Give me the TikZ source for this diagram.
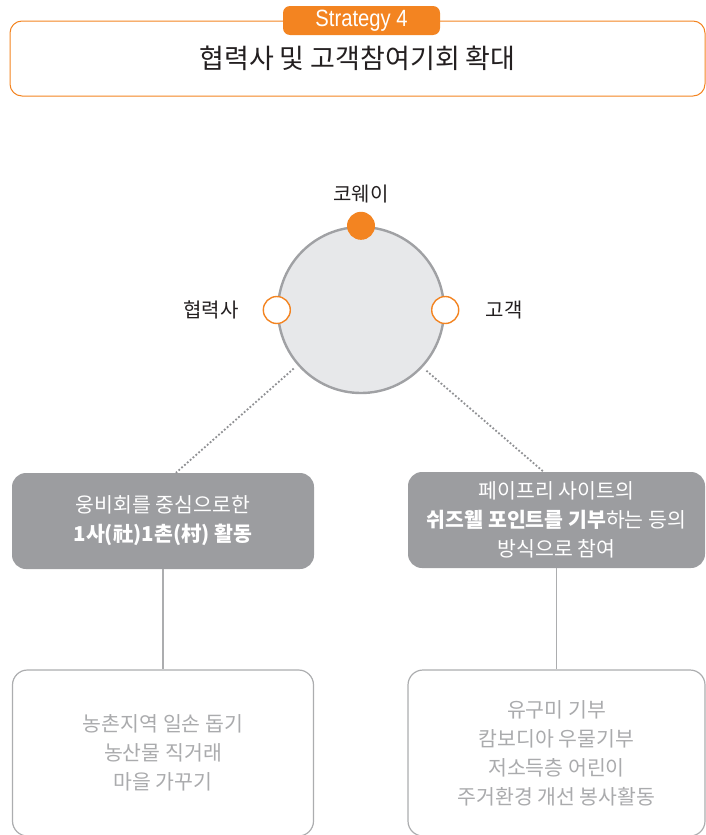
\documentclass[tikz,border=0pt]{standalone}
\usepackage{fontspec}
\setmainfont{Noto Sans CJK KR}
\newfontfamily\stratfont[FakeStretch=0.86]{Liberation Sans}
\usepackage{tikz}
\usetikzlibrary{positioning,calc}
\definecolor{cwor}{RGB}{243,132,33}
\definecolor{hubfill}{RGB}{231,232,234}
\definecolor{hubline}{RGB}{160,161,164}
\definecolor{boxgray}{RGB}{156,157,160}
\definecolor{linegray}{RGB}{172,173,175}
\definecolor{txtlight}{RGB}{170,171,173}
\definecolor{txtdark}{RGB}{35,31,32}
\tikzset{
  headbox/.style={draw=cwor, line width=1pt, rounded corners=12pt, minimum width=695pt,
                  minimum height=75pt, inner sep=0pt, text=txtdark,
                  font=\fontsize{27}{32}\selectfont},
  tab/.style={fill=cwor, rounded corners=7pt, minimum width=157pt, minimum height=29pt,
              inner sep=0pt, text=white, font=\stratfont\fontsize{23.5}{26}\selectfont},
  hub/.style={circle, draw=hubline, fill=hubfill, line width=2.4pt, minimum size=166pt,
              inner sep=0pt},
  fulldot/.style={circle, fill=cwor, minimum size=28pt, inner sep=0pt},
  opendot/.style={circle, draw=cwor, fill=white, line width=1.4pt, minimum size=27pt,
                  inner sep=0pt},
  lbl/.style={text=txtdark, font=\fontsize{20}{24}\selectfont, inner sep=2pt},
  actbox/.style={fill=boxgray, rounded corners=14pt, minimum height=96pt, inner sep=0pt,
                 text=white, align=center, font=\fontsize{20.5}{29}\selectfont},
  detbox/.style={draw=linegray, line width=1.2pt, fill=white, rounded corners=15pt,
                 minimum height=166pt, inner sep=0pt, text=txtlight, align=center,
                 font=\fontsize{20.5}{29}\selectfont},
  dotlink/.style={dotted, line width=1.8pt, hubline!90!black, shorten <=5pt},
  link/.style={line width=1.2pt, linegray}
}
\begin{document}
\begin{tikzpicture}[x=1pt,y=-1pt]
\clip (0,0) rectangle (706,835);
% header
\node[headbox] (head) at (357.5,58.5) {협력사 및 고객참여기회 확대};
\node[tab] (tab) at (361.5,20.5) {Strategy 4};
% hub with three parties
\node[hub] (hub) at (361,310) {};
\node[fulldot] (kw) at (hub.north) {};
\node[opendot] (pt) at (hub.west) {};
\node[opendot] (cu) at (hub.east) {};
\node[lbl, above=6pt of kw] (kwl) {코웨이};
\node[lbl, left=22pt of pt] (ptl) {협력사};
\node[lbl, right=24pt of cu] (cul) {고객};
% activities
\node[actbox, minimum width=302pt] (act1) at (163,521) {웅비회를 중심으로한\\\textbf{1사(社)1촌(村) 활동}};
\node[actbox, minimum width=297pt] (act2) at (556.5,520) {페이프리 사이트의\\\textbf{쉬즈웰 포인트를 기부}하는 등의\\방식으로 참여};
\node[detbox, minimum width=301pt] (det1) at (163,753) {농촌지역 일손 돕기\\농산물 직거래\\마을 가꾸기};
\node[detbox, minimum width=297pt] (det2) at (556.5,753) {유구미 기부\\캄보디아 우물기부\\저소득층 어린이\\주거환경 개선 봉사활동};
% connectors
\draw[dotlink] (hub.221) -- (act1.75);
\draw[dotlink] (hub.-43) -- (act2.105);
\draw[link] (act1.south) -- (det1.north);
\draw[link] (act2.south) -- (det2.north);
\end{tikzpicture}
\end{document}
